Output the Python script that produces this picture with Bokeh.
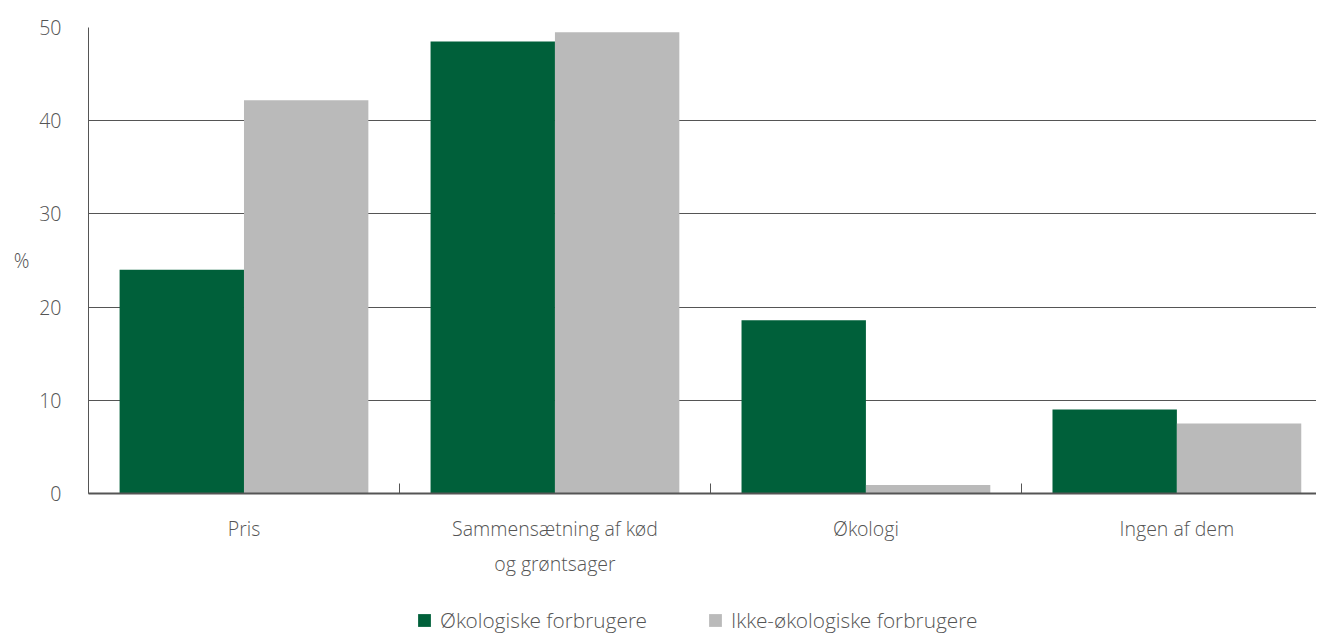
from bokeh.plotting import figure
from bokeh.layouts import column
from bokeh.models import (Range1d, FixedTicker, Legend, LegendItem, ColumnDataSource, LinearAxis)
from bokeh.transform import dodge
from bokeh.embed import file_html
from bokeh.resources import INLINE

categories = ["Pris", "Sammensætning af kød\nog grøntsager", "Økologi", "Ingen af dem"]
oeko = [24.0, 48.5, 18.6, 9.0]
ikke_oeko = [42.2, 49.5, 0.9, 7.5]
series_names = ["Økologiske forbrugere", "Ikke-økologiske forbrugere"]
y_ticks = [0, 10, 20, 30, 40, 50]
y_unit = "%"

GREEN = "#00603A"
GRAY = "#BABABA"
TXT = "#555555"
LINE = "#555555"
FONT = "'Open Sans Light', 'Open Sans', sans-serif"

xpos = [i + 0.5 for i in range(len(categories))]
src = ColumnDataSource(dict(x=xpos, a=oeko, b=ikke_oeko))

p = figure(width=1316, height=595, output_backend="svg", toolbar_location=None,
           x_range=Range1d(0, 3.949), y_range=Range1d(0, 50),
           min_border_left=88, min_border_right=0, min_border_top=27, min_border_bottom=102)
p.outline_line_color = None
p.background_fill_color = "white"

r1 = p.vbar(x=dodge("x", -0.2), top="a", width=0.4, source=src, color=GREEN, line_color=None)
r2 = p.vbar(x=dodge("x", 0.2), top="b", width=0.4, source=src, color=GRAY, line_color=None)

# y axis
p.yaxis.ticker = FixedTicker(ticks=y_ticks)
p.yaxis.major_tick_line_color = None
p.yaxis.minor_tick_line_color = None
p.yaxis.axis_line_color = LINE
p.yaxis.major_label_text_font = FONT
p.yaxis.major_label_text_font_size = "19.5px"
p.yaxis.major_label_text_color = TXT
p.yaxis.major_label_standoff = 21

# unit label as a second, bare left axis
unit_axis = LinearAxis(ticker=FixedTicker(ticks=[25]), major_label_overrides={25: y_unit},
                       axis_line_color=None, major_tick_line_color=None, minor_tick_line_color=None,
                       major_label_standoff=1, major_label_text_font=FONT,
                       major_label_text_font_size="19.5px", major_label_text_color=TXT)
p.add_layout(unit_axis, "left")

p.ygrid.ticker = FixedTicker(ticks=y_ticks[1:])
p.ygrid.grid_line_color = LINE
p.ygrid.grid_line_width = 1.2
p.xgrid.grid_line_color = None

# x axis
p.xaxis.ticker = FixedTicker(ticks=xpos, minor_ticks=[0, 1, 2, 3])
p.xaxis.major_label_overrides = {x: c for x, c in zip(xpos, categories)}
p.xaxis.major_tick_line_color = None
p.xaxis.minor_tick_in = 10
p.xaxis.minor_tick_out = 0
p.xaxis.minor_tick_line_color = LINE
p.xaxis.axis_line_color = LINE
p.xaxis.axis_line_width = 2
p.xaxis.major_label_text_font = FONT
p.xaxis.major_label_text_font_size = "19.5px"
p.xaxis.major_label_text_color = TXT
p.xaxis.major_label_standoff = 15
p.xaxis.major_label_text_line_height = 1.3

# legend strip below the chart (frames are aligned with the chart above)
lg = figure(width=1316, height=40, output_backend="svg", toolbar_location=None,
            x_axis_location=None, y_axis_location=None,
            min_border_left=0, min_border_right=0, min_border_top=0, min_border_bottom=0)
lg.outline_line_color = None
lg.xgrid.grid_line_color = None
lg.ygrid.grid_line_color = None
l1 = lg.vbar(x=[0], top=[0], width=0.4, fill_color=GREEN, line_color=None)
l2 = lg.vbar(x=[0], top=[0], width=0.4, fill_color=GRAY, line_color=None)
legend = Legend(items=[LegendItem(label=series_names[0], renderers=[l1]),
                       LegendItem(label=series_names[1], renderers=[l2])],
                location=(328, 1), orientation="horizontal",
                glyph_width=16, glyph_height=16, label_standoff=8, spacing=60,
                padding=0, margin=0, border_line_color=None, background_fill_alpha=0,
                label_text_font=FONT, label_text_font_size="20.8px", label_text_color=TXT)
lg.add_layout(legend)

layout = column(p, lg, spacing=0)
open("out.html", "w").write(file_html(layout, INLINE))
